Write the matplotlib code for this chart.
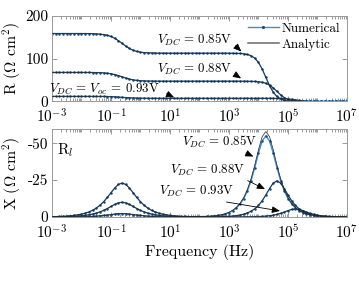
import numpy as np
import matplotlib
matplotlib.use('Agg')
import matplotlib.pyplot as plt
from matplotlib.ticker import FixedLocator, LogLocator, FuncFormatter, NullFormatter

plt.rcParams['font.family'] = 'cmr10'
plt.rcParams['mathtext.fontset'] = 'cm'
plt.rcParams['axes.unicode_minus'] = False
plt.rcParams['axes.formatter.use_mathtext'] = True

# ---------------- data ----------------
log_freq = [
    -3.0, -2.875, -2.75, -2.625, -2.5, -2.375, -2.25, -2.125,
    -2.0, -1.875, -1.75, -1.625, -1.5, -1.375, -1.25, -1.125,
    -1.0, -0.875, -0.75, -0.625, -0.5, -0.375, -0.25, -0.125,
    0.0, 0.125, 0.25, 0.375, 0.5, 0.625, 0.75, 0.875,
    1.0, 1.125, 1.25, 1.375, 1.5, 1.625, 1.75, 1.875,
    2.0, 2.125, 2.25, 2.375, 2.5, 2.625, 2.75, 2.875,
    3.0, 3.125, 3.25, 3.375, 3.5, 3.625, 3.75, 3.875,
    4.0, 4.125, 4.25, 4.375, 4.5, 4.625, 4.75, 4.875,
    5.0, 5.125, 5.25, 5.375, 5.5, 5.625, 5.75, 5.875,
    6.0, 6.125, 6.25, 6.375, 6.5, 6.625, 6.75, 6.875,
    7.0]

r_085 = [
    159.0, 159.0, 159.0, 159.0, 159.0, 159.0, 159.0, 159.0,
    158.9, 158.9, 158.7, 158.5, 158.2, 157.6, 156.6, 154.8,
    152.1, 147.9, 142.4, 136.0, 129.6, 124.1, 119.9, 117.2,
    115.4, 114.4, 113.8, 113.5, 113.3, 113.1, 113.1, 113.0,
    113.0, 113.0, 113.0, 113.0, 113.0, 113.0, 113.0, 113.0,
    113.0, 113.0, 113.0, 113.0, 113.0, 113.0, 113.0, 113.0,
    112.9, 112.8, 112.6, 112.3, 111.5, 110.0, 107.0, 101.3,
    91.3, 76.0, 56.5, 37.0, 21.7, 11.7, 6.0, 3.0,
    1.5, 0.7, 0.4, 0.2, 0.1, 0.0, 0.0, 0.0,
    0.0, 0.0, 0.0, 0.0, 0.0, 0.0, 0.0, 0.0,
    0.0]

r_088 = [
    68.0, 68.0, 68.0, 68.0, 68.0, 68.0, 68.0, 68.0,
    68.0, 67.9, 67.9, 67.8, 67.6, 67.4, 66.9, 66.1,
    64.9, 63.1, 60.6, 57.8, 54.9, 52.4, 50.6, 49.4,
    48.6, 48.1, 47.9, 47.7, 47.6, 47.6, 47.5, 47.5,
    47.5, 47.5, 47.5, 47.5, 47.5, 47.5, 47.5, 47.5,
    47.5, 47.5, 47.5, 47.5, 47.5, 47.5, 47.5, 47.5,
    47.5, 47.5, 47.5, 47.5, 47.4, 47.3, 47.2, 46.9,
    46.2, 45.0, 42.6, 38.4, 31.9, 23.8, 15.6, 9.1,
    4.9, 2.5, 1.3, 0.6, 0.3, 0.2, 0.1, 0.0,
    0.0, 0.0, 0.0, 0.0, 0.0, 0.0, 0.0, 0.0,
    0.0]

r_093 = [
    12.0, 12.0, 12.0, 12.0, 12.0, 12.0, 12.0, 12.0,
    12.0, 12.0, 12.0, 12.0, 11.9, 11.9, 11.8, 11.6,
    11.3, 10.9, 10.4, 9.8, 9.1, 8.6, 8.2, 7.9,
    7.7, 7.6, 7.6, 7.5, 7.5, 7.5, 7.5, 7.5,
    7.5, 7.5, 7.5, 7.5, 7.5, 7.5, 7.5, 7.5,
    7.5, 7.5, 7.5, 7.5, 7.5, 7.5, 7.5, 7.5,
    7.5, 7.5, 7.5, 7.5, 7.5, 7.5, 7.5, 7.5,
    7.5, 7.5, 7.5, 7.5, 7.4, 7.3, 7.1, 6.7,
    6.1, 5.0, 3.8, 2.5, 1.4, 0.8, 0.4, 0.2,
    0.1, 0.1, 0.0, 0.0, 0.0, 0.0, 0.0, 0.0,
    0.0]

x_085_analytic = [
    -0.19, -0.26, -0.35, -0.46, -0.61, -0.82, -1.09, -1.45,
    -1.94, -2.58, -3.43, -4.55, -6.03, -7.93, -10.33, -13.23,
    -16.47, -19.65, -22.08, -23.0, -22.08, -19.65, -16.47, -13.23,
    -10.33, -7.93, -6.03, -4.55, -3.43, -2.58, -1.94, -1.45,
    -1.09, -0.82, -0.61, -0.46, -0.39, -0.32, -0.28, -0.28,
    -0.28, -0.34, -0.43, -0.57, -0.78, -1.10, -1.56, -2.23,
    -3.19, -4.55, -6.51, -9.29, -13.22, -18.69, -26.04, -35.35,
    -45.67, -54.43, -58.0, -54.43, -45.67, -35.35, -26.04, -18.69,
    -13.22, -9.29, -6.51, -4.55, -3.18, -2.22, -1.54, -1.08,
    -0.75, -0.52, -0.37, -0.26, -0.17, -0.13, -0.09, -0.06,
    -0.04]

x_085_numerical = [
    -0.19, -0.26, -0.35, -0.46, -0.61, -0.82, -1.09, -1.45,
    -1.94, -2.58, -3.43, -4.55, -6.03, -7.93, -10.33, -13.23,
    -16.47, -19.65, -22.08, -23.0, -22.08, -19.65, -16.47, -13.23,
    -10.33, -7.93, -6.03, -4.55, -3.43, -2.58, -1.94, -1.45,
    -1.09, -0.82, -0.61, -0.46, -0.39, -0.32, -0.28, -0.28,
    -0.28, -0.34, -0.43, -0.57, -0.74, -1.04, -1.47, -2.10,
    -3.01, -4.31, -6.17, -8.81, -12.53, -17.72, -24.69, -33.51,
    -43.30, -51.60, -55.0, -51.60, -43.30, -33.51, -24.69, -17.72,
    -12.53, -8.81, -6.17, -4.31, -3.01, -2.10, -1.46, -1.02,
    -0.71, -0.49, -0.35, -0.25, -0.16, -0.12, -0.09, -0.06,
    -0.04]

x_088 = [
    -0.08, -0.11, -0.15, -0.20, -0.27, -0.36, -0.47, -0.63,
    -0.84, -1.12, -1.49, -1.98, -2.62, -3.45, -4.49, -5.75,
    -7.16, -8.54, -9.60, -10.0, -9.60, -8.54, -7.16, -5.75,
    -4.49, -3.45, -2.62, -1.98, -1.49, -1.12, -0.84, -0.63,
    -0.47, -0.36, -0.27, -0.20, -0.15, -0.11, -0.08, -0.08,
    -0.08, -0.08, -0.08, -0.09, -0.12, -0.17, -0.23, -0.33,
    -0.47, -0.66, -0.94, -1.34, -1.92, -2.75, -3.92, -5.59,
    -7.89, -11.0, -14.93, -19.29, -22.99, -24.5, -22.99, -19.29,
    -14.93, -11.0, -7.89, -5.59, -3.92, -2.75, -1.92, -1.34,
    -0.94, -0.65, -0.46, -0.32, -0.22, -0.16, -0.11, -0.07,
    -0.05]

x_093 = [
    -0.02, -0.03, -0.03, -0.05, -0.06, -0.08, -0.11, -0.15,
    -0.19, -0.26, -0.34, -0.46, -0.60, -0.79, -1.03, -1.32,
    -1.65, -1.97, -2.21, -2.30, -2.21, -1.97, -1.65, -1.32,
    -1.03, -0.79, -0.60, -0.46, -0.34, -0.26, -0.19, -0.15,
    -0.11, -0.08, -0.06, -0.05, -0.03, -0.03, -0.02, -0.01,
    -0.01, -0.01, -0.01, -0.01, -0.01, -0.01, -0.01, -0.02,
    -0.02, -0.03, -0.04, -0.05, -0.07, -0.10, -0.15, -0.21,
    -0.30, -0.43, -0.62, -0.88, -1.25, -1.77, -2.47, -3.35,
    -4.33, -5.16, -5.50, -5.16, -4.33, -3.35, -2.47, -1.77,
    -1.25, -0.88, -0.62, -0.43, -0.30, -0.21, -0.15, -0.10,
    -0.07]

x_major_ticks = [1e-3, 1e-1, 1e1, 1e3, 1e5, 1e7]
r_ticks = [0, 100, 200]
x_ticks = [0, -25, -50]

# ---------------- styles ----------------
BLUE = '#3a90d6'
DOT = '#24476f'
DARK = '#202020'
FS = 11
ANN_FS = 9.3

freq = 10.0 ** np.asarray(log_freq)

fig = plt.figure(figsize=(3.59, 2.89), dpi=100)
ax1 = fig.add_axes([0.1448, 0.6488, 0.8217, 0.2958])
ax2 = fig.add_axes([0.1448, 0.2491, 0.8217, 0.3062])


def style(ax):
    ax.set_xscale('log')
    ax.set_xlim(1e-3, 1e7)
    ax.xaxis.set_major_locator(FixedLocator(x_major_ticks))
    ax.xaxis.set_minor_locator(LogLocator(base=10, subs=np.arange(1, 10), numticks=100))
    ax.xaxis.set_minor_formatter(NullFormatter())
    ax.yaxis.set_major_formatter(FuncFormatter(lambda v, p: '%d' % v))
    ax.tick_params(which='both', direction='in', top=True, right=True,
                   color='#8c8c8c', labelcolor='black', labelsize=FS, width=0.6)
    ax.tick_params(which='major', length=3.5, pad=2.5)
    ax.tick_params(axis='x', which='major', pad=4.6)
    ax.tick_params(which='minor', length=2)
    for s in ax.spines.values():
        s.set_color('#9a9a9a')
        s.set_linewidth(0.7)


def draw(ax, y_num, y_ana, label=True):
    ln_num, = ax.plot(freq, y_num, color=BLUE, lw=1.0, marker='.', ms=1.6,
                      mfc=DOT, mec=DOT, zorder=2,
                      label='Numerical' if label else None)
    ln_ana, = ax.plot(freq, y_ana, color=DARK, lw=0.5, zorder=3,
                      label='Analytic' if label else None)
    return ln_num, ln_ana


style(ax1)
style(ax2)

h_num, h_ana = draw(ax1, r_085, r_085)
draw(ax1, r_088, r_088, False)
draw(ax1, r_093, r_093, False)
ax1.set_ylim(0, 200)
ax1.set_yticks(r_ticks)

draw(ax2, x_085_numerical, x_085_analytic, False)
draw(ax2, x_088, x_088, False)
draw(ax2, x_093, x_093, False)
ax2.set_ylim(0, -60)
ax2.set_yticks(x_ticks)

ax1.set_ylabel(r'R ($\Omega$ cm$^2$)', fontsize=FS + 0.3)
ax2.set_ylabel(r'X ($\Omega$ cm$^2$)', fontsize=FS + 0.3)
ax1.yaxis.set_label_coords(-0.097, 0.5)
ax2.yaxis.set_label_coords(-0.097, 0.5)
ax2.set_xlabel('Frequency (Hz)', fontsize=FS + 0.5, labelpad=2)

leg = ax1.legend(handles=[h_num, h_ana], loc='upper right', frameon=False,
                 fontsize=9.5, handlelength=2.4, handletextpad=0.2,
                 labelspacing=0.3, borderaxespad=0.3, borderpad=0.2,
                 numpoints=1)
leg.legend_handles[0].set_markersize(2.5)
leg.legend_handles[1].set_color('#6a6a6a')
leg.legend_handles[1].set_linewidth(1.1)

ap = dict(arrowstyle='-|>,head_length=0.6,head_width=0.25', color='k', lw=0.6,
          shrinkA=0, shrinkB=0, mutation_scale=8)

ax1.annotate(r'$V_{DC}$ = 0.85V', xy=(10 ** 3.42, 117), xytext=(10 ** 3.12, 144),
             ha='right', va='center', fontsize=ANN_FS,
             arrowprops=dict(ap, relpos=(1.0, 0.3)))
ax1.annotate(r'$V_{DC}$ = 0.88V', xy=(10 ** 3.41, 54), xytext=(10 ** 3.12, 74),
             ha='right', va='center', fontsize=ANN_FS,
             arrowprops=dict(ap, relpos=(1.0, 0.3)))
ax1.annotate(r'$V_{DC}$ = $V_{oc}$ = 0.93V', xy=(10 ** 1.14, 9.5), xytext=(10 ** 0.66, 29),
             ha='right', va='center', fontsize=ANN_FS,
             arrowprops=dict(ap, relpos=(1.0, 0.4), shrinkA=3))

ax2.text(0.017, 0.75, r'R$_l$', transform=ax2.transAxes, fontsize=FS, va='center')
ax2.annotate(r'$V_{DC}$ = 0.85V', xy=(10 ** 3.83, -41.0), xytext=(10 ** 3.95, -50.7),
             ha='right', va='center', fontsize=ANN_FS,
             arrowprops=dict(ap, relpos=(0.77, 0.0)))
ax2.annotate(r'$V_{DC}$ = 0.88V', xy=(10 ** 4.22, -18.9), xytext=(10 ** 3.54, -31.5),
             ha='right', va='center', fontsize=ANN_FS,
             arrowprops=dict(ap, relpos=(0.97, 0.0)))
ax2.annotate(r'$V_{DC}$ = 0.93V', xy=(10 ** 4.73, -4.1), xytext=(10 ** 3.17, -17.2),
             ha='right', va='center', fontsize=ANN_FS,
             arrowprops=dict(ap, relpos=(0.68, 0.0)))

fig.savefig('out.png', dpi=100, facecolor='white')
